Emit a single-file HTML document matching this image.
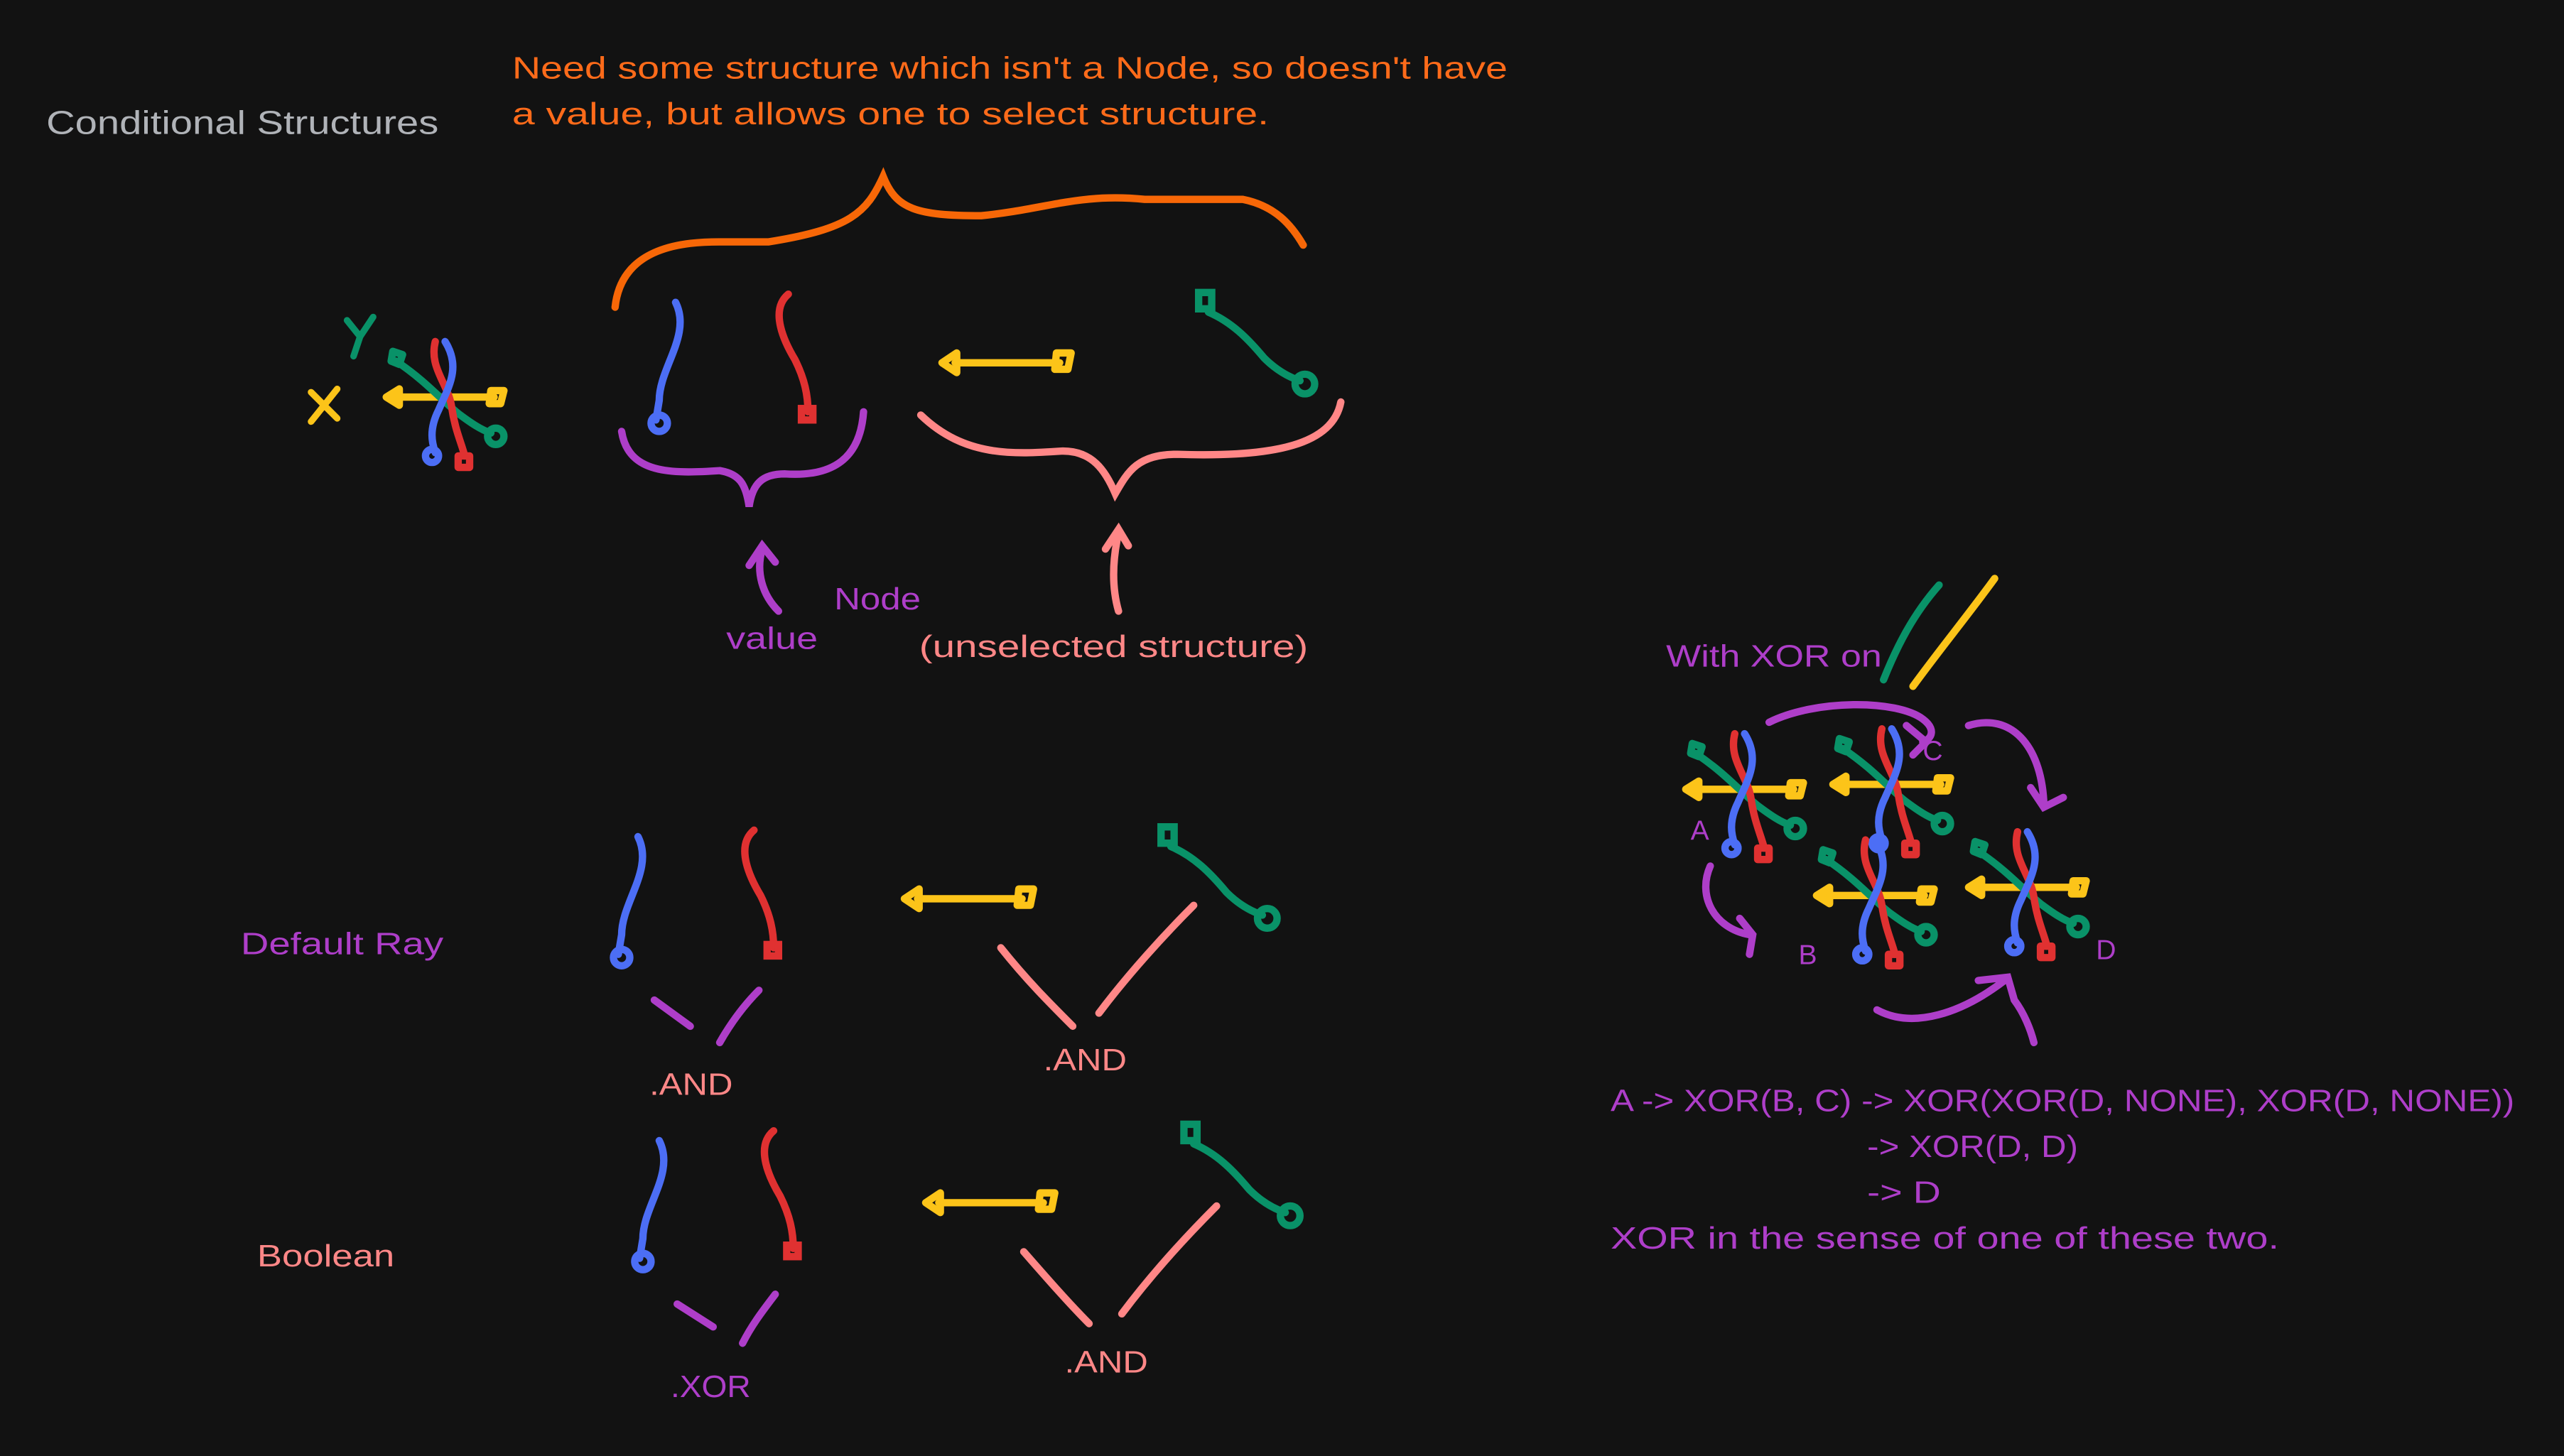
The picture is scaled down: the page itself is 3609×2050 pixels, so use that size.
<!DOCTYPE html>
<html><head><meta charset="utf-8"><style>
html,body{margin:0;padding:0;background:#121212;}
svg{display:block;}
text{font-family:"Liberation Sans",sans-serif;}
</style></head><body>
<svg width="3609" height="2050" viewBox="0 0 1568 891" xmlns="http://www.w3.org/2000/svg">
<rect width="1568" height="891" fill="#121212"/>
<defs>
<g id="cross" fill="none" stroke-linecap="round" stroke-linejoin="round" stroke-width="4.5">
 <path d="M-32,-2 L32,-2" stroke="#fcc419"/>
 <path d="M-34,-2 l8,-5 l0,10 z" stroke="#fcc419"/>
 <path d="M30,-6 l8,0 l-2,8 l-7,0 z" stroke="#fcc419"/>
 <path d="M-28,-24 C-10,-12 0,0 10,8 C18,14 24,18 30,20" stroke="#099268"/>
 <path d="M-30,-30 l6,2 l-2,6 l-5,-2 z" stroke="#099268"/>
 <circle cx="33" cy="22" r="5" stroke="#099268"/>
 <path d="M-4,-36 C-8,-20 4,-10 6,4 C8,18 12,26 14,34" stroke="#e03131"/>
 <path d="M10,34 l7,0 l0,7 l-7,0 z" stroke="#e03131"/>
 <path d="M2,-36 C12,-20 4,-8 -2,6 C-8,18 -6,26 -4,32" stroke="#4c6ef5"/>
 <circle cx="-6" cy="34" r="4" stroke="#4c6ef5"/>
</g>
<g id="blue" fill="none" stroke="#4c6ef5" stroke-width="4.5" stroke-linecap="round"><path d="M10,0 C20,20 0,40 0,60 L-2,72"/><circle cx="0" cy="74" r="5"/></g>
<g id="red" fill="none" stroke="#e03131" stroke-width="4.5" stroke-linecap="round"><path d="M6,0 C-6,10 4,30 10,40 C16,52 18,62 18,72"/><rect x="14" y="70" width="7" height="7"/></g>
<g id="yellow" fill="none" stroke="#fcc419" stroke-width="4.5" stroke-linecap="round" stroke-linejoin="round"><path d="M6,0 L70,0"/><path d="M-2,0 l9,-6 l0,12 z"/><path d="M68,-6 l9,0 l-2,10 l-8,0 z"/></g>
<g id="green" fill="none" stroke="#099268" stroke-width="4.5" stroke-linecap="round"><path d="M6,8 C20,14 30,24 40,36 C48,44 56,48 62,50"/><path d="M0,-4 l8,0 l0,10 l-8,0 z"/><circle cx="65" cy="52" r="6"/></g>
</defs>

<text x="28" y="82" fill="#b0b3b8" font-size="20" textLength="240" lengthAdjust="spacingAndGlyphs">Conditional Structures</text>
<text x="313" y="48" fill="#ff6b1a" font-size="19" textLength="609" lengthAdjust="spacingAndGlyphs">Need some structure which isn't a Node, so doesn't have</text>
<text x="313" y="76" fill="#ff6b1a" font-size="19" textLength="463" lengthAdjust="spacingAndGlyphs">a value, but allows one to select structure.</text>
<path d="M376,188 C380,150 420,148 440,148 L470,148 C520,140 530,130 540,108 C548,128 560,132 600,132 C640,128 660,118 700,122 L760,122 C780,126 790,138 797,150" fill="none" stroke="#f76707" stroke-width="4.5" stroke-linecap="round"/>

<g>
<path d="M212,196 L220,206 L228,194 M220,206 L216,218" fill="none" stroke="#099268" stroke-width="4" stroke-linecap="round"/>
<path d="M190,240 L206,256 M206,238 L190,258" fill="none" stroke="#fcc419" stroke-width="4" stroke-linecap="round"/>
<use href="#cross" x="270" y="245"/>
</g>

<use href="#blue" x="403" y="185"/>
<use href="#red" x="476" y="180"/>
<use href="#yellow" x="578" y="222"/>
<use href="#green" x="733" y="183"/>

<path d="M380,264 C384,290 410,290 440,288 C452,290 456,296 458,310 C460,296 466,290 480,290 C510,292 526,280 528,252" fill="none" stroke="#ae3ec9" stroke-width="4.5" stroke-linecap="round"/>
<path d="M563,254 C590,280 620,278 650,276 C668,276 676,288 682,302 C690,288 696,278 720,278 C780,280 815,272 820,246" fill="none" stroke="#ff8787" stroke-width="4.5" stroke-linecap="round"/>
<path d="M476,374 C466,364 462,350 466,336 M458,346 L466,334 L474,344" fill="none" stroke="#ae3ec9" stroke-width="4.5" stroke-linecap="round"/>
<path d="M684,374 C680,360 680,344 684,326 M676,336 L684,324 L690,334" fill="none" stroke="#ff8787" stroke-width="4.5" stroke-linecap="round"/>
<text x="510" y="373" fill="#ae3ec9" font-size="19" textLength="53" lengthAdjust="spacingAndGlyphs">Node</text>
<text x="444" y="397" fill="#ae3ec9" font-size="19" textLength="56" lengthAdjust="spacingAndGlyphs">value</text>
<text x="562" y="402" fill="#ff8787" font-size="19" textLength="238" lengthAdjust="spacingAndGlyphs">(unselected structure)</text>

<text x="147" y="584" fill="#ae3ec9" font-size="19" textLength="124" lengthAdjust="spacingAndGlyphs">Default Ray</text>
<use href="#blue" x="380" y="512"/>
<use href="#red" x="455" y="508"/>
<use href="#yellow" x="555" y="550"/>
<use href="#green" x="710" y="510"/>
<path d="M400,612 L422,628 M440,638 C448,624 456,614 464,606" fill="none" stroke="#ae3ec9" stroke-width="4.5" stroke-linecap="round"/>
<path d="M612,580 C628,600 642,614 656,628 M672,620 C690,596 712,572 730,554" fill="none" stroke="#ff8787" stroke-width="4.5" stroke-linecap="round"/>
<text x="397" y="670" fill="#ff8787" font-size="19" textLength="51" lengthAdjust="spacingAndGlyphs">.AND</text>
<text x="638" y="655" fill="#ff8787" font-size="19" textLength="51" lengthAdjust="spacingAndGlyphs">.AND</text>

<text x="157" y="775" fill="#ff8787" font-size="19" textLength="84" lengthAdjust="spacingAndGlyphs">Boolean</text>
<use href="#blue" x="393" y="698"/>
<use href="#red" x="467" y="692"/>
<use href="#yellow" x="568" y="736"/>
<use href="#green" x="724" y="692"/>
<path d="M414,798 L436,812 M454,822 C460,810 468,800 474,792" fill="none" stroke="#ae3ec9" stroke-width="4.5" stroke-linecap="round"/>
<path d="M626,766 C640,782 654,798 666,810 M686,804 C704,780 724,758 744,738" fill="none" stroke="#ff8787" stroke-width="4.5" stroke-linecap="round"/>
<text x="410" y="855" fill="#ae3ec9" font-size="19" textLength="49" lengthAdjust="spacingAndGlyphs">.XOR</text>
<text x="651" y="840" fill="#ff8787" font-size="19" textLength="51" lengthAdjust="spacingAndGlyphs">.AND</text>

<text x="1019" y="408" fill="#ae3ec9" font-size="19" textLength="132" lengthAdjust="spacingAndGlyphs">With XOR on</text>
<path d="M1152,416 C1160,396 1170,376 1186,358" fill="none" stroke="#099268" stroke-width="4.5" stroke-linecap="round"/>
<path d="M1170,420 C1186,398 1204,376 1220,354" fill="none" stroke="#fcc419" stroke-width="4.5" stroke-linecap="round"/>

<g>
<use href="#cross" x="1065" y="485"/>
<use href="#cross" x="1155" y="482"/>
<use href="#cross" x="1145" y="550"/>
<use href="#cross" x="1238" y="545"/>
<text x="1034" y="514" fill="#ae3ec9" font-size="17">A</text>
<text x="1176" y="465" fill="#ae3ec9" font-size="17">C</text>
<text x="1100" y="590" fill="#ae3ec9" font-size="17">B</text>
<text x="1282" y="587" fill="#ae3ec9" font-size="17">D</text>
<path d="M1082,442 C1110,428 1160,428 1176,440 C1184,446 1182,452 1176,454 M1166,444 L1178,454 L1170,462" fill="none" stroke="#ae3ec9" stroke-width="4.5" stroke-linecap="round"/>
<path d="M1204,444 C1230,436 1248,456 1250,490 M1242,482 L1250,494 L1262,488" fill="none" stroke="#ae3ec9" stroke-width="4.5" stroke-linecap="round"/>
<path d="M1046,530 C1038,548 1048,568 1070,572 M1064,562 L1072,572 L1070,584" fill="none" stroke="#ae3ec9" stroke-width="4.5" stroke-linecap="round"/>
<path d="M1148,618 C1170,630 1200,620 1226,600 M1210,600 L1228,598 L1232,612 C1238,620 1242,630 1244,638" fill="none" stroke="#ae3ec9" stroke-width="4.5" stroke-linecap="round"/>
</g>

<g fill="#ae3ec9" font-size="19">
<text x="985" y="680" textLength="553" lengthAdjust="spacingAndGlyphs">A -&gt; XOR(B, C) -&gt; XOR(XOR(D, NONE), XOR(D, NONE))</text>
<text x="1142" y="708" textLength="129" lengthAdjust="spacingAndGlyphs">-&gt; XOR(D, D)</text>
<text x="1142" y="736" textLength="45" lengthAdjust="spacingAndGlyphs">-&gt; D</text>
<text x="985" y="764" textLength="409" lengthAdjust="spacingAndGlyphs">XOR in the sense of one of these two.</text>
</g>
</svg>
</body></html>
